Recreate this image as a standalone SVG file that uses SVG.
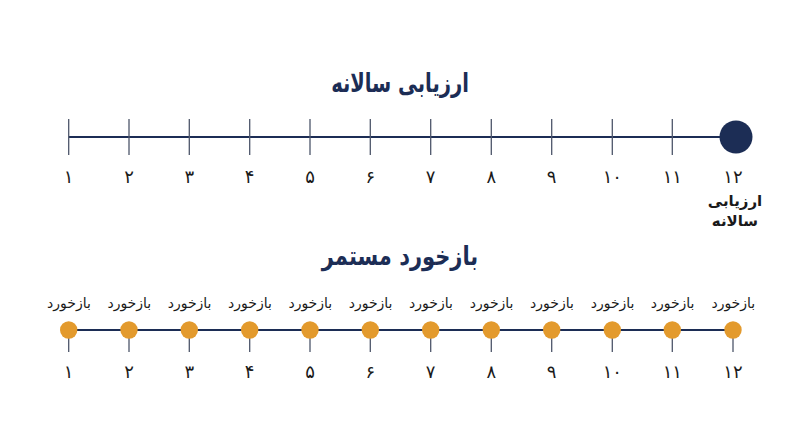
<svg xmlns="http://www.w3.org/2000/svg" width="800" height="447" viewBox="0 0 800 447">
<style>
.t{font-family:"DejaVu Sans","Noto Sans",sans-serif;fill:#1c2d55;text-anchor:middle}
.title{font-size:25px;font-weight:bold}
.num{font-size:18px;fill:#1a1a1a}
.lbl{font-size:14px;fill:#1a1a1a}
.sub{font-size:15px;fill:#1a1a1a;font-weight:600}
.tick{stroke:#4d566a;stroke-width:1.3}
.main{stroke:#1c2d55;stroke-width:2}
.dot{fill:#e39a2d}
</style>
<rect width="800" height="447" fill="#ffffff"/>
<g id="title-annual"><text class="t title" transform="translate(400,92) scale(0.78,1.05)" direction="rtl">ارزیابی سالانه</text></g>
<g id="connectors">
<line class="main" x1="68.7" y1="137" x2="736" y2="137"/>
<line class="main" x1="68.7" y1="330" x2="734" y2="330"/>
</g>
<g id="annual-ticks">
<line class="tick" x1="68.7" y1="119" x2="68.7" y2="155"/>
<line class="tick" x1="129" y1="119" x2="129" y2="155"/>
<line class="tick" x1="189.3" y1="119" x2="189.3" y2="155"/>
<line class="tick" x1="249.7" y1="119" x2="249.7" y2="155"/>
<line class="tick" x1="310" y1="119" x2="310" y2="155"/>
<line class="tick" x1="370.3" y1="119" x2="370.3" y2="155"/>
<line class="tick" x1="430.7" y1="119" x2="430.7" y2="155"/>
<line class="tick" x1="491.3" y1="119" x2="491.3" y2="155"/>
<line class="tick" x1="551.7" y1="119" x2="551.7" y2="155"/>
<line class="tick" x1="612.3" y1="119" x2="612.3" y2="155"/>
<line class="tick" x1="672.3" y1="119" x2="672.3" y2="155"/>
</g>
<g id="annual-milestone"><circle cx="736" cy="137" r="16.5" fill="#1c2d55"/></g>
<g id="annual-numbers">
<text class="t num" x="68.7" y="183">۱</text>
<text class="t num" x="129" y="183">۲</text>
<text class="t num" x="189.3" y="183">۳</text>
<text class="t num" x="249.7" y="183">۴</text>
<text class="t num" x="310" y="183">۵</text>
<text class="t num" x="370.3" y="183">۶</text>
<text class="t num" x="430.7" y="183">۷</text>
<text class="t num" x="491.3" y="183">۸</text>
<text class="t num" x="551.7" y="183">۹</text>
<text class="t num" x="612.3" y="183">۱۰</text>
<text class="t num" x="672.3" y="183">۱۱</text>
<text class="t num" x="733" y="183">۱۲</text>
<text class="t sub" x="735" y="206" direction="rtl">ارزیابی</text>
<text class="t sub" x="735" y="226" direction="rtl">سالانه</text>
</g>
<g id="title-continuous"><text class="t title" transform="translate(400,265) scale(0.84,1.05)" direction="rtl">بازخورد مستمر</text></g>
<g id="feedback-points">
<g class="tick"><line x1="68.7" y1="330" x2="68.7" y2="352"/><line x1="129" y1="330" x2="129" y2="352"/><line x1="189.3" y1="330" x2="189.3" y2="352"/><line x1="249.7" y1="330" x2="249.7" y2="352"/><line x1="310" y1="330" x2="310" y2="352"/><line x1="370.3" y1="330" x2="370.3" y2="352"/><line x1="430.7" y1="330" x2="430.7" y2="352"/><line x1="491.3" y1="330" x2="491.3" y2="352"/><line x1="551.7" y1="330" x2="551.7" y2="352"/><line x1="612.3" y1="330" x2="612.3" y2="352"/><line x1="672.3" y1="330" x2="672.3" y2="352"/><line x1="733" y1="330" x2="733" y2="352"/></g>
<circle class="dot" cx="68.7" cy="330" r="8.7"/>
<circle class="dot" cx="129" cy="330" r="8.7"/>
<circle class="dot" cx="189.3" cy="330" r="8.7"/>
<circle class="dot" cx="249.7" cy="330" r="8.7"/>
<circle class="dot" cx="310" cy="330" r="8.7"/>
<circle class="dot" cx="370.3" cy="330" r="8.7"/>
<circle class="dot" cx="430.7" cy="330" r="8.7"/>
<circle class="dot" cx="491.3" cy="330" r="8.7"/>
<circle class="dot" cx="551.7" cy="330" r="8.7"/>
<circle class="dot" cx="612.3" cy="330" r="8.7"/>
<circle class="dot" cx="672.3" cy="330" r="8.7"/>
<circle class="dot" cx="733" cy="330" r="8.7"/>
</g>
<g id="feedback-labels">
<text class="t lbl" x="69" y="308" direction="rtl">بازخورد</text>
<text class="t lbl" x="129.3" y="308" direction="rtl">بازخورد</text>
<text class="t lbl" x="189.6" y="308" direction="rtl">بازخورد</text>
<text class="t lbl" x="250" y="308" direction="rtl">بازخورد</text>
<text class="t lbl" x="310.3" y="308" direction="rtl">بازخورد</text>
<text class="t lbl" x="370.6" y="308" direction="rtl">بازخورد</text>
<text class="t lbl" x="431" y="308" direction="rtl">بازخورد</text>
<text class="t lbl" x="491.6" y="308" direction="rtl">بازخورد</text>
<text class="t lbl" x="552" y="308" direction="rtl">بازخورد</text>
<text class="t lbl" x="612.6" y="308" direction="rtl">بازخورد</text>
<text class="t lbl" x="672.6" y="308" direction="rtl">بازخورد</text>
<text class="t lbl" x="733.3" y="308" direction="rtl">بازخورد</text>
</g>
<g id="feedback-numbers">
<text class="t num" x="68.7" y="378">۱</text>
<text class="t num" x="129" y="378">۲</text>
<text class="t num" x="189.3" y="378">۳</text>
<text class="t num" x="249.7" y="378">۴</text>
<text class="t num" x="310" y="378">۵</text>
<text class="t num" x="370.3" y="378">۶</text>
<text class="t num" x="430.7" y="378">۷</text>
<text class="t num" x="491.3" y="378">۸</text>
<text class="t num" x="551.7" y="378">۹</text>
<text class="t num" x="612.3" y="378">۱۰</text>
<text class="t num" x="672.3" y="378">۱۱</text>
<text class="t num" x="733" y="378">۱۲</text>
</g>
</svg>
